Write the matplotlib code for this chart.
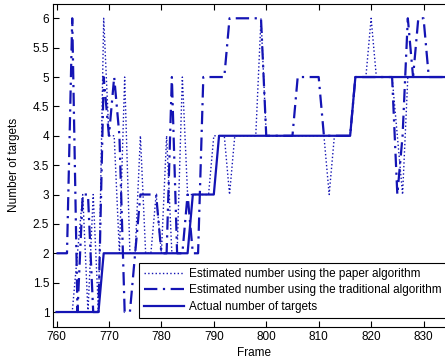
import numpy as np
import matplotlib
matplotlib.use("Agg")
import matplotlib.pyplot as plt

plt.rcParams['font.family'] = ['Liberation Sans', 'DejaVu Sans']

# frames 760..834
frames = list(range(760, 835))

actual = ([1] * 9 + [2] * 17 + [3] * 5 + [4] * 26 + [5] * 18)

traditional = [2, 2, 2, 6, 1, 3, 3, 1, 1, 5,    # 760-769
               4, 5, 4, 1, 1, 2, 3, 3, 3, 3,    # 770-779
               2, 2, 5, 2, 2, 3, 2, 2, 5, 5,    # 780-789
               5, 5, 5, 6, 6, 6, 6, 6, 6, 6,    # 790-799
               4, 4, 4, 4, 4, 4, 5, 5, 5, 5,    # 800-809
               5, 4, 4, 4, 4, 4, 4, 5, 5, 5,    # 810-819
               5, 5, 5, 5, 5, 3, 4, 6, 5, 6,    # 820-829
               6, 5, 5, 5, 5]                   # 830-834

paper = [1, 1, 1, 1, 2, 3, 1, 3, 1, 6,          # 760-769
         4, 4, 2, 5, 2, 2, 4, 2, 2, 3,          # 770-779
         2, 4, 2, 2, 5, 3, 3, 3, 3, 3,          # 780-789
         4, 4, 4, 3, 4, 4, 4, 4, 4, 6,          # 790-799
         4, 4, 4, 4, 4, 4, 4, 4, 4, 4,          # 800-809
         4, 4, 3, 4, 4, 4, 4, 5, 5, 5,          # 810-819
         6, 5, 5, 5, 5, 4, 3, 5, 5, 5,          # 820-829
         5, 5, 5, 5, 5]                         # 830-834

labels = ['Estimated number using the paper algorithm',
          'Estimated number using the traditional algorithm',
          'Actual number of targets']

blue = '#1414b4'

fig = plt.figure(figsize=(4.45, 3.6), dpi=100)
# axes runs past the right edge, as in the cropped reference
ax = fig.add_axes([0.1199, 0.0925, 0.9026, 0.8975])

ax.plot(frames, paper, color=blue, lw=1.0, ls=':', label=labels[0])
ax.plot(frames, traditional, color=blue, lw=1.6, ls=(0, (6, 2.5, 1, 2.5)),
        label=labels[1])
ax.plot(frames, actual, color=blue, lw=1.6, ls='-', label=labels[2])

ax.set_xlim(759.4, 836)
ax.set_ylim(0.75, 6.25)
ax.set_xticks(range(760, 831, 10))
yt = [1, 1.5, 2, 2.5, 3, 3.5, 4, 4.5, 5, 5.5, 6]
ax.set_yticks(yt)
ax.set_yticklabels([f"{v:g}" for v in yt])
ax.tick_params(direction='in', top=True, right=True, labelsize=8.5, length=4,
               pad=3)
ax.set_xlabel('Frame', fontsize=8.5, labelpad=3)
ax.set_ylabel('Number of targets', fontsize=8.5, labelpad=9)

leg = ax.legend(loc='upper left', bbox_to_anchor=(139 / 445, 97 / 360),
                bbox_transform=fig.transFigure, borderaxespad=0,
                fancybox=False, edgecolor='black', framealpha=1,
                fontsize=8.5, handlelength=3.4, labelspacing=0.4,
                borderpad=0.4, handletextpad=0.4)
leg.get_frame().set_linewidth(0.8)

fig.savefig('out.png', dpi=100)
